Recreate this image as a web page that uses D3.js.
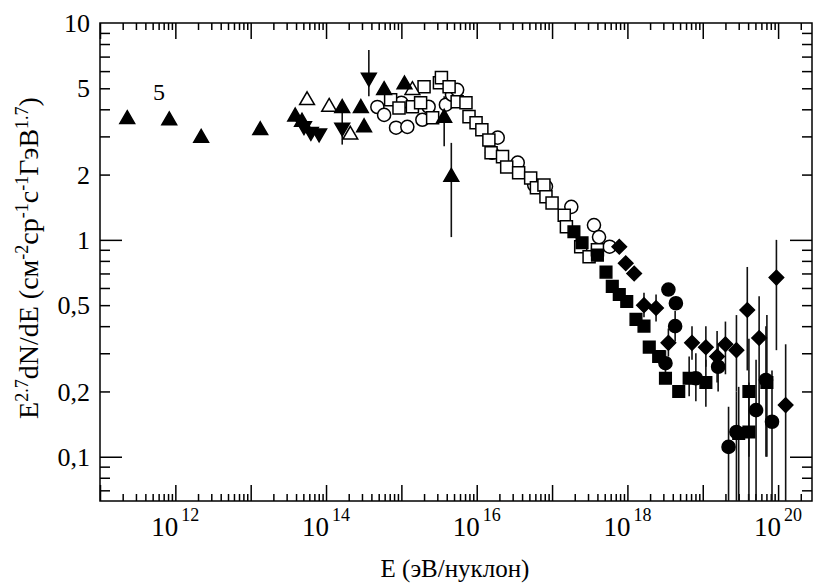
<!DOCTYPE html>
<html>
<head>
<meta charset="utf-8">
<title></title>
<script src="https://cdn.jsdelivr.net/npm/d3@7/dist/d3.min.js"></script>
<style>
    body { margin: 0; background: #fff; }
    text { font-family: "Liberation Serif", "Times New Roman", serif; fill: #000; }
</style>
</head>
<body>
<script type="text/javascript">

    // [E (eV), E^2.7 dN/dE, errLo, errHi]
    var triUpFilled = [
        [2.3e11, 3.6], [8.3e11, 3.55], [2.2e12, 2.95], [1.34e13, 3.2],
        [3.9e13, 3.7], [4.8e13, 3.5], [1.64e14, 4.05], [2.9e14, 4.05],
        [3.2e14, 3.3], [5.9e14, 4.9], [1.1e15, 5.2],
        [3.7e15, 3.65, 2.7, 4.6], [4.6e15, 1.95, 1.03, 2.8]
    ];
    var triDownFilled = [
        [5.1e13, 3.35], [6.3e13, 3.15], [8.1e13, 3.1],
        [1.64e14, 3.3, 2.75, 4.1], [3.7e14, 5.6, 4.6, 7.5]
    ];
    var triUpOpen = [
        [5.6e13, 4.4], [1.1e14, 4.1], [2.1e14, 3.05], [1.4e15, 4.9]
    ];
    var circOpen = [
        [4.8e14, 4.1], [5.9e14, 3.77], [8.5e14, 3.29], [1.2e15, 3.32],
        [1.0e15, 4.29], [1.9e15, 3.58], [2.3e15, 4.11], [3.9e15, 4.2],
        [4.7e15, 4.67], [5.5e15, 4.92], [1.6e16, 2.52], [1.9e16, 2.96],
        [3.5e16, 2.27], [5.8e16, 1.79], [8.3e16, 1.76], [1.8e17, 1.42],
        [3.6e17, 1.17], [4.2e17, 1.03], [5.8e17, 0.93]
    ];
    var sqOpen = [
        [7.2e14, 4.43], [9.3e14, 4.06], [1.4e15, 4.11], [1.8e15, 4.29],
        [2.0e15, 5.08], [2.6e15, 3.66], [3.2e15, 5.3], [3.4e15, 5.6],
        [4.3e15, 5.08], [5.5e15, 4.33], [7.2e15, 4.29], [7.9e15, 3.7],
        [9.8e15, 3.47], [1.17e16, 3.22], [1.45e16, 2.89], [1.55e16, 2.52],
        [2.2e16, 2.42], [2.5e16, 2.17], [3.6e16, 2.04], [5.2e16, 1.93],
        [6.2e16, 1.74], [7.8e16, 1.79], [8.3e16, 1.58], [1.0e17, 1.48],
        [1.45e17, 1.30], [1.55e17, 1.15], [2.4e17, 0.93], [3.1e17, 0.835],
        [4.0e17, 0.9]
    ];
    var sqFilled = [
        [1.95e17, 1.09], [2.5e17, 0.97], [4.0e17, 0.85], [5.2e17, 0.71],
        [6.3e17, 0.61], [7.8e17, 0.56], [9.8e17, 0.52], [1.3e18, 0.43],
        [1.66e18, 0.40], [1.95e18, 0.32], [2.6e18, 0.29], [3.2e18, 0.23],
        [4.8e18, 0.20], [6.6e18, 0.23, 0.19, 0.29], [1.1e19, 0.22, 0.17, 0.28],
        [3.0e19, 0.128, 0.06, 0.21], [4.1e19, 0.13, 0.06, 0.22],
        [4.1e19, 0.20, 0.1, 0.35], [7.1e19, 0.22, 0.1, 0.45]
    ];
    var diamFilled = [
        [7.8e17, 0.93], [9.5e17, 0.78], [1.23e18, 0.70],
        [1.66e18, 0.50, 0.44, 0.57], [2.4e18, 0.485, 0.42, 0.56],
        [3.5e18, 0.335, 0.29, 0.39], [7.2e18, 0.335, 0.28, 0.40],
        [1.1e19, 0.32, 0.26, 0.40], [1.55e19, 0.29, 0.22, 0.38],
        [2.0e19, 0.33, 0.24, 0.42], [2.8e19, 0.31, 0.2, 0.45],
        [3.9e19, 0.475, 0.25, 0.75], [5.6e19, 0.353, 0.17, 0.55],
        [9.5e19, 0.67, 0.31, 1.0], [1.26e20, 0.173, 0.06, 0.33]
    ];
    var circFilled = [
        [3.5e18, 0.59], [4.4e18, 0.51], [4.3e18, 0.40, 0.34, 0.47],
        [3.2e18, 0.27, 0.23, 0.31], [8.1e18, 0.23, 0.18, 0.30],
        [1.6e19, 0.26, 0.2, 0.33], [2.2e19, 0.111, 0.06, 0.17],
        [2.8e19, 0.13, 0.06, 0.2], [5.1e19, 0.164, 0.06, 0.28],
        [6.9e19, 0.226, 0.1, 0.4], [8.3e19, 0.145, 0.06, 0.25]
    ];

    var xTickExps = [12, 14, 16, 18, 20];
    var yTickLabels = [10, 5, 2, 1, 0.5, 0.2, 0.1];

    var w = 813, h = 587,
        pLeft = 100, pRight = 812, pTop = 23, pBottom = 501;

    var x = d3.scaleLog().domain([1e11, Math.pow(10, 20.45)]).range([pLeft, pRight]);
    var y = d3.scaleLog().domain([0.0625, 10]).range([pBottom, pTop]);

    var svg = d3.select("body").append("svg")
            .attr("width", w)
            .attr("height", h);

    // frame
    svg.append("rect")
            .attr("x", pLeft).attr("y", pTop)
            .attr("width", pRight - pLeft).attr("height", pBottom - pTop)
            .attr("fill", "none").attr("stroke", "#000").attr("stroke-width", 1.5);

    // tick values
    var xMajor = d3.range(11, 21).map(function(e){ return Math.pow(10, e); });
    var xMinor = [];
    d3.range(11, 21).forEach(function(e){
        d3.range(2, 10).forEach(function(m){
            var v = m * Math.pow(10, e);
            if (v < x.domain()[1]) xMinor.push(v);
        });
    });
    var yMajor = [0.1, 1];
    var yMinor = [0.07, 0.08, 0.09, 0.2, 0.3, 0.4, 0.5, 0.6, 0.7, 0.8, 0.9, 2, 3, 4, 5, 6, 7, 8, 9];

    function addAxis(axis, tr) {
        var g = svg.append("g").attr("transform", tr).call(axis);
        g.select(".domain").remove();
        g.selectAll("line").attr("stroke", "#000").attr("stroke-width", 1.5);
        g.selectAll("text").remove();
    }
    addAxis(d3.axisBottom(x).tickValues(xMinor).tickSize(-7), "translate(0," + pBottom + ")");
    addAxis(d3.axisBottom(x).tickValues(xMajor).tickSize(-16), "translate(0," + pBottom + ")");
    addAxis(d3.axisTop(x).tickValues(xMinor).tickSize(-7), "translate(0," + pTop + ")");
    addAxis(d3.axisTop(x).tickValues(xMajor).tickSize(-16), "translate(0," + pTop + ")");
    addAxis(d3.axisLeft(y).tickValues(yMinor).tickSize(-10), "translate(" + pLeft + ",0)");
    addAxis(d3.axisLeft(y).tickValues(yMajor).tickSize(-22), "translate(" + pLeft + ",0)");
    addAxis(d3.axisRight(y).tickValues(yMinor).tickSize(-10), "translate(" + pRight + ",0)");
    addAxis(d3.axisRight(y).tickValues(yMajor).tickSize(-22), "translate(" + pRight + ",0)");

    // y tick labels
    svg.selectAll(".ylab")
            .data(yTickLabels)
            .enter()
            .append("text")
            .attr("x", 90)
            .attr("y", function(d){ return y(d); })
            .attr("dy", "0.35em")
            .attr("text-anchor", "end")
            .style("font-size", "26px")
            .text(function(d){ return String(d).replace(".", ","); });

    // x tick labels 10^n
    var xl = svg.selectAll(".xlab")
            .data(xTickExps)
            .enter()
            .append("text")
            .attr("x", function(d){ return x(Math.pow(10, d)); })
            .attr("y", 536)
            .attr("text-anchor", "middle")
            .style("font-size", "27px");
    xl.append("tspan").text("10");
    xl.append("tspan").attr("dx", 3).attr("dy", -15).style("font-size", "18px")
            .text(function(d){ return d; });

    // axis titles
    svg.append("text")
            .attr("x", 455).attr("y", 577)
            .attr("text-anchor", "middle")
            .style("font-size", "25px")
            .text("E (эВ/нуклон)");

    var yt = svg.append("text")
            .attr("transform", "translate(38,258) rotate(-90)")
            .attr("text-anchor", "middle")
            .style("font-size", "28px");
    [["E", ""], ["2.7", "sup"], ["dN/dE (см", ""], ["-2", "sup"], ["ср", ""], ["-1", "sup"],
     ["с", ""], ["-1", "sup"], ["ГэВ", ""], ["1.7", "sup"], [")", ""]].forEach(function(p){
        var t = yt.append("tspan").text(p[0]);
        if (p[1] === "sup") t.attr("baseline-shift", "super").style("font-size", "18px");
    });

    // stray label
    svg.append("text")
            .attr("x", 159).attr("y", 92)
            .attr("dy", "0.35em")
            .attr("text-anchor", "middle")
            .style("font-size", "24px")
            .text("5");

    // error bars
    var withErr = [].concat(triUpFilled, triDownFilled, sqFilled, diamFilled, circFilled)
            .filter(function(d){ return d.length > 2; });
    svg.selectAll(".err")
            .data(withErr)
            .enter()
            .append("line")
            .attr("x1", function(d){ return x(d[0]); })
            .attr("x2", function(d){ return x(d[0]); })
            .attr("y1", function(d){ return Math.min(pBottom, y(Math.max(d[2], 0.0625))); })
            .attr("y2", function(d){ return y(d[3]); })
            .attr("stroke", "#111")
            .attr("stroke-width", 1.6);

    function drawSeries(data, type, size, filled, rot) {
        svg.append("g").selectAll("path")
                .data(data)
                .enter()
                .append("path")
                .attr("d", d3.symbol().type(type).size(size))
                .attr("transform", function(d){
                    return "translate(" + x(d[0]) + "," + y(d[1]) + ")" + (rot ? " rotate(" + rot + ")" : "");
                })
                .attr("fill", filled ? "#000" : "#fff")
                .attr("stroke", "#000")
                .attr("stroke-width", 1.5);
    }

    drawSeries(circOpen, d3.symbolCircle, 135, false);
    drawSeries(sqOpen, d3.symbolSquare, 145, false);
    drawSeries(triUpOpen, d3.symbolTriangle, 95, false);
    drawSeries(sqFilled, d3.symbolSquare, 135, true);
    drawSeries(diamFilled, d3.symbolSquare, 105, true, 45);
    drawSeries(circFilled, d3.symbolCircle, 135, true);
    drawSeries(triUpFilled, d3.symbolTriangle, 95, true);
    drawSeries(triDownFilled, d3.symbolTriangle, 95, true, 180);
</script>
</body>
</html>
